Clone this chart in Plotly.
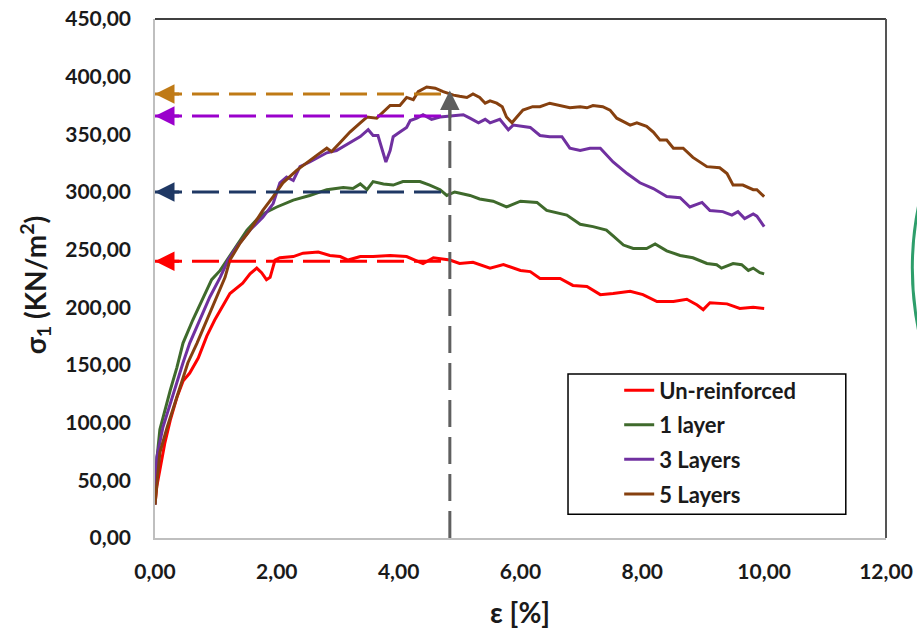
import plotly.graph_objects as go

# ---- data ----
red_x = [0.00, 0.03, 0.08, 0.16, 0.25, 0.36, 0.46, 0.57, 0.71, 0.85, 0.98, 1.10, 1.23, 1.44, 1.56, 1.67, 1.75, 1.83, 1.89, 1.97,
         2.05, 2.27, 2.43, 2.68, 2.87, 3.04, 3.17, 3.37, 3.58, 3.86, 4.13, 4.40, 4.57, 4.84, 5.00, 5.22, 5.50, 5.72, 6.00, 6.16,
         6.32, 6.65, 6.86, 7.09, 7.31, 7.52, 7.80, 8.01, 8.24, 8.51, 8.73, 8.90, 9.00, 9.11, 9.39, 9.60, 9.82, 10.00]
red_y = [29, 45, 59, 82, 102, 122, 136, 143, 156, 175, 189, 200, 212, 221, 229, 234, 230, 224, 226, 241,
         243, 244, 247, 248, 245, 244, 241, 244, 244, 245, 244, 238, 243, 241, 238, 239, 234, 237, 232, 231,
         225, 225, 219, 218, 211, 212, 214, 211, 205, 205, 207, 202, 198, 204, 203, 199, 200, 199]

green_x = [0.00, 0.03, 0.08, 0.16, 0.25, 0.36, 0.46, 0.62, 0.79, 0.93, 1.07, 1.18, 1.35, 1.51, 1.67, 1.81, 2.00, 2.27, 2.54, 2.82,
           3.09, 3.25, 3.37, 3.48, 3.58, 3.75, 3.91, 4.07, 4.35, 4.51, 4.68, 4.79, 4.92, 5.17, 5.33, 5.55, 5.77, 6.00, 6.27, 6.43,
           6.76, 6.98, 7.19, 7.41, 7.52, 7.69, 7.85, 8.07, 8.21, 8.40, 8.62, 8.83, 9.06, 9.22, 9.30, 9.49, 9.63, 9.74, 9.82, 9.93, 10.00]
green_y = [29, 68, 94, 111, 128, 148, 169, 189, 209, 224, 232, 241, 254, 267, 276, 282, 287, 293, 297, 302,
           304, 303, 307, 302, 309, 307, 306, 309, 309, 306, 302, 297, 300, 297, 294, 292, 287, 292, 291, 284,
           280, 272, 270, 267, 262, 254, 251, 251, 255, 249, 245, 243, 238, 237, 234, 238, 237, 232, 234, 230, 229]

purple_x = [0.00, 0.03, 0.13, 0.25, 0.36, 0.46, 0.57, 0.74, 0.90, 1.07, 1.20, 1.35, 1.56, 1.77, 1.94, 2.05, 2.16, 2.27, 2.38, 2.54,
            2.82, 2.98, 3.20, 3.37, 3.50, 3.58, 3.66, 3.74, 3.79, 3.86, 3.91, 4.02, 4.13, 4.19, 4.30, 4.40, 4.54, 4.68, 4.84, 5.06,
            5.17, 5.31, 5.42, 5.50, 5.66, 5.80, 5.88, 6.16, 6.32, 6.48, 6.68, 6.81, 6.98, 7.14, 7.31, 7.52, 7.75, 7.96, 8.18, 8.40,
            8.62, 8.78, 8.98, 9.11, 9.32, 9.47, 9.57, 9.68, 9.82, 9.88, 10.00]
purple_y = [29, 70, 96, 117, 134, 152, 169, 189, 209, 226, 241, 253, 267, 278, 290, 308, 313, 310, 322, 326,
            334, 336, 343, 348, 354, 349, 349, 334, 326, 336, 348, 352, 356, 362, 364, 367, 363, 365, 366, 367,
            364, 360, 363, 360, 363, 354, 358, 356, 349, 348, 348, 338, 336, 338, 338, 326, 316, 308, 303, 296,
            295, 287, 291, 284, 283, 280, 283, 277, 281, 279, 270]

brown_x = [0.00, 0.08, 0.20, 0.33, 0.44, 0.54, 0.69, 0.85, 1.02, 1.15, 1.23, 1.40, 1.56, 1.77, 1.94, 2.10, 2.33, 2.50, 2.66, 2.82,
           2.90, 3.04, 3.20, 3.37, 3.48, 3.64, 3.74, 3.86, 4.02, 4.13, 4.24, 4.32, 4.46, 4.60, 4.73, 4.90, 5.00, 5.12, 5.22, 5.33,
           5.42, 5.50, 5.61, 5.70, 5.77, 5.86, 5.94, 6.04, 6.20, 6.32, 6.48, 6.65, 6.81, 6.98, 7.09, 7.19, 7.35, 7.47, 7.58, 7.69,
           7.80, 7.91, 8.07, 8.18, 8.29, 8.40, 8.51, 8.67, 8.83, 9.06, 9.27, 9.39, 9.49, 9.65, 9.82, 9.88, 10.00]
brown_y = [29, 74, 96, 117, 134, 152, 169, 189, 209, 226, 241, 256, 267, 284, 296, 308, 319, 326, 332, 338,
           335, 343, 352, 360, 365, 364, 369, 375, 375, 382, 380, 387, 391, 390, 387, 384, 383, 382, 385, 382,
           377, 379, 377, 374, 365, 360, 365, 371, 374, 374, 377, 375, 373, 374, 373, 375, 374, 371, 364, 361,
           358, 360, 357, 352, 345, 345, 338, 338, 330, 322, 321, 316, 306, 306, 302, 302, 296]

series_names = ["Un-reinforced", "1 layer", "3 Layers", "5 Layers"]
series_colors = ["#FF0000", "#3F6A2C", "#7030A0", "#86400F"]

# reference (dashed) levels
ref_levels = [385, 366, 300, 240]
ref_colors = ["#BF7A16", "#9A00CC", "#1F3864", "#FF0000"]
ref_strain = 4.84
ref_top = 388

x_ticks = [0, 2, 4, 6, 8, 10, 12]
y_ticks = [0, 50, 100, 150, 200, 250, 300, 350, 400, 450]

FONT = "Lato"

fig = go.Figure()
for i, (xs, ys) in enumerate([(red_x, red_y), (green_x, green_y), (purple_x, purple_y), (brown_x, brown_y)]):
    fig.add_trace(go.Scatter(x=xs, y=ys, mode="lines", name=series_names[i],
                             legendgroup=f"g{i}",
                             line=dict(color=series_colors[i], width=3)))

shapes = []
annotations = []
for lvl, col in zip(ref_levels, ref_colors):
    shapes.append(dict(type="line", xref="x", yref="y", x0=0, x1=ref_strain, y0=lvl, y1=lvl,
                       line=dict(color=col, width=3, dash="27px,10px"), layer="above"))
    annotations.append(dict(x=0, y=lvl, ax=0.42, ay=lvl, xref="x", yref="y", axref="x", ayref="y",
                            text="", showarrow=True, arrowhead=2, arrowsize=1.3, arrowwidth=3,
                            arrowcolor=col, standoff=0))
shapes.append(dict(type="line", xref="x", yref="y", x0=ref_strain, x1=ref_strain, y0=0, y1=ref_top - 5,
                   line=dict(color="#5F5F5F", width=3, dash="27px,10px"), layer="above"))
annotations.append(dict(x=ref_strain, y=ref_top, ax=ref_strain, ay=ref_top - 25, xref="x", yref="y",
                        axref="x", ayref="y", text="", showarrow=True, arrowhead=2, arrowsize=1.3,
                        arrowwidth=3, arrowcolor="#5F5F5F", standoff=0))

# frame: top and right borders
shapes.append(dict(type="line", xref="paper", yref="paper", x0=0, x1=1, y0=1, y1=1,
                   line=dict(color="#000000", width=1.5)))
shapes.append(dict(type="line", xref="paper", yref="paper", x0=1, x1=1, y0=0, y1=1,
                   line=dict(color="#555555", width=2)))
# legend box
shapes.append(dict(type="rect", xref="paper", yref="paper", x0=0.565, x1=0.945, y0=0.046, y1=0.316,
                   line=dict(color="#000000", width=1.5), fillcolor="rgba(0,0,0,0)", layer="above"))
# green arc at the right edge (part of an outer ellipse)
shapes.append(dict(type="circle", xref="paper", yref="paper", x0=1.036, x1=1.90, y0=-0.085, y1=1.125,
                   line=dict(color="#2E9E6B", width=3)))

annotations.append(dict(text="σ<sub>1</sub> (KN/m<sup>2</sup>)", xref="paper", yref="paper",
                        x=-0.164, y=0.487, textangle=-90, showarrow=False,
                        xanchor="center", yanchor="middle",
                        font=dict(family=FONT, size=28, color="#1a1a1a", weight="bold")))
annotations.append(dict(text="ε [%]", xref="paper", yref="paper", x=0.499, y=-0.1426,
                        showarrow=False, xanchor="center", yanchor="middle",
                        font=dict(family=FONT, size=28, color="#1a1a1a", weight="bold")))

fig.update_layout(
    width=917, height=628,
    margin=dict(l=155, r=31, t=19, b=90, autoexpand=False),
    paper_bgcolor="white", plot_bgcolor="white",
    separators=",.",
    shapes=shapes, annotations=annotations,
    showlegend=True,
    legend=dict(x=0.635, y=0.325, xanchor="left", yanchor="top",
                bgcolor="rgba(0,0,0,0)", borderwidth=0, tracegroupgap=3,
                font=dict(family=FONT, size=22, color="#1a1a1a", weight="bold")),
    xaxis=dict(range=[0, 12], tickvals=x_ticks, tickformat=".2f", showgrid=False, zeroline=False,
               showline=True, linecolor="#BFBFBF", linewidth=1.5, automargin=False,
               ticks="outside", ticklen=14, tickcolor="rgba(0,0,0,0)",
               tickfont=dict(family=FONT, size=21, color="#1a1a1a", weight="bold")),
    yaxis=dict(range=[0, 450], tickvals=y_ticks, tickformat=".2f", showgrid=False, zeroline=False,
               showline=True, linecolor="#BFBFBF", linewidth=1.5, automargin=False,
               ticks="outside", ticklen=18, tickcolor="rgba(0,0,0,0)",
               tickfont=dict(family=FONT, size=21, color="#1a1a1a", weight="bold")),
)

fig.write_html("out.html", config={"displayModeBar": False},
               post_script="document.body.style.margin='0';")
